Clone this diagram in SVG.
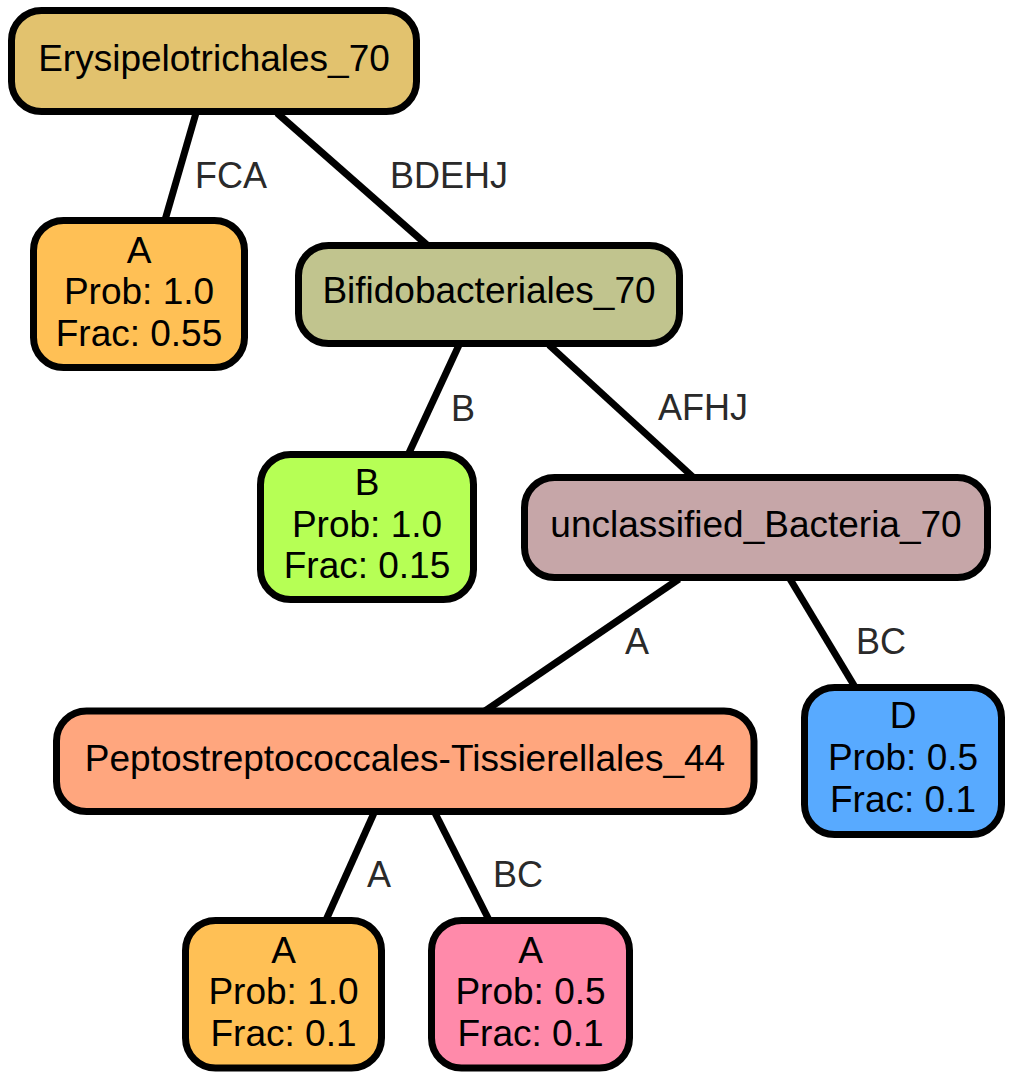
<svg xmlns="http://www.w3.org/2000/svg" width="1013" height="1079" viewBox="0 0 1013 1079">
<style>
.node rect{stroke:#000;stroke-width:7}
.node text{font-family:"Liberation Sans",Arial,Helvetica,sans-serif;font-size:37px;fill:#000;text-anchor:middle}
.edge line{stroke:#000;stroke-width:7}
.elabel{font-family:"Liberation Sans",Arial,Helvetica,sans-serif;font-size:36px;fill:#2a2a2a}
</style>
<rect width="1013" height="1079" fill="#fff"/>
<g id="connectors" class="edge">
<line x1="196" y1="113" x2="165" y2="220"/>
<line x1="277" y1="113" x2="427" y2="245"/>
<line x1="459" y1="345" x2="408" y2="455"/>
<line x1="549" y1="345" x2="694" y2="478"/>
<line x1="679" y1="579" x2="485" y2="711"/>
<line x1="790" y1="579" x2="855" y2="687"/>
<line x1="374" y1="813" x2="326" y2="920"/>
<line x1="435" y1="813" x2="489" y2="920"/>
<text class="elabel" x="195" y="188">FCA</text>
<text class="elabel" x="390" y="188">BDEHJ</text>
<text class="elabel" x="451" y="420.5">B</text>
<text class="elabel" x="658" y="420">AFHJ</text>
<text class="elabel" x="625" y="654">A</text>
<text class="elabel" x="856" y="654">BC</text>
<text class="elabel" x="367" y="887">A</text>
<text class="elabel" x="493" y="887">BC</text>
</g>
<g id="n1" class="node">
<rect x="11.5" y="10.5" width="405" height="101" rx="30" fill="#E2C26E"/>
<text x="214" y="71">Erysipelotrichales_70</text>
</g>
<g id="n2" class="node">
<rect x="33.5" y="220.5" width="211" height="147" rx="30" fill="#FFC055"/>
<text x="139" y="263">A</text>
<text x="139" y="304">Prob: 1.0</text>
<text x="139" y="346">Frac: 0.55</text>
</g>
<g id="n3" class="node">
<rect x="298.5" y="245.5" width="381" height="98" rx="30" fill="#C1C48E"/>
<text x="489" y="303">Bifidobacteriales_70</text>
</g>
<g id="n4" class="node">
<rect x="260.5" y="454.5" width="213" height="145" rx="30" fill="#B6FF55"/>
<text x="367" y="495">B</text>
<text x="367" y="537">Prob: 1.0</text>
<text x="367" y="578">Frac: 0.15</text>
</g>
<g id="n5" class="node">
<rect x="524.5" y="477.5" width="463" height="100" rx="30" fill="#C6A6A8"/>
<text x="756" y="537">unclassified_Bacteria_70</text>
</g>
<g id="n6" class="node">
<rect x="56.5" y="711" width="697.5" height="100.5" rx="30" fill="#FFA67E"/>
<text x="405" y="770.5">Peptostreptococcales-Tissierellales_44</text>
</g>
<g id="n7" class="node">
<rect x="804.5" y="687.5" width="197" height="147" rx="30" fill="#58AAFF"/>
<text x="903" y="728">D</text>
<text x="903" y="770">Prob: 0.5</text>
<text x="903" y="811.5">Frac: 0.1</text>
</g>
<g id="n8" class="node">
<rect x="185.5" y="920.5" width="196" height="147.5" rx="30" fill="#FFC055"/>
<text x="283.5" y="963">A</text>
<text x="283.5" y="1004">Prob: 1.0</text>
<text x="283.5" y="1045.5">Frac: 0.1</text>
</g>
<g id="n9" class="node">
<rect x="431.5" y="920.5" width="198" height="147.5" rx="30" fill="#FF8AAA"/>
<text x="530.5" y="963">A</text>
<text x="530.5" y="1004">Prob: 0.5</text>
<text x="530.5" y="1045.5">Frac: 0.1</text>
</g>
</svg>
